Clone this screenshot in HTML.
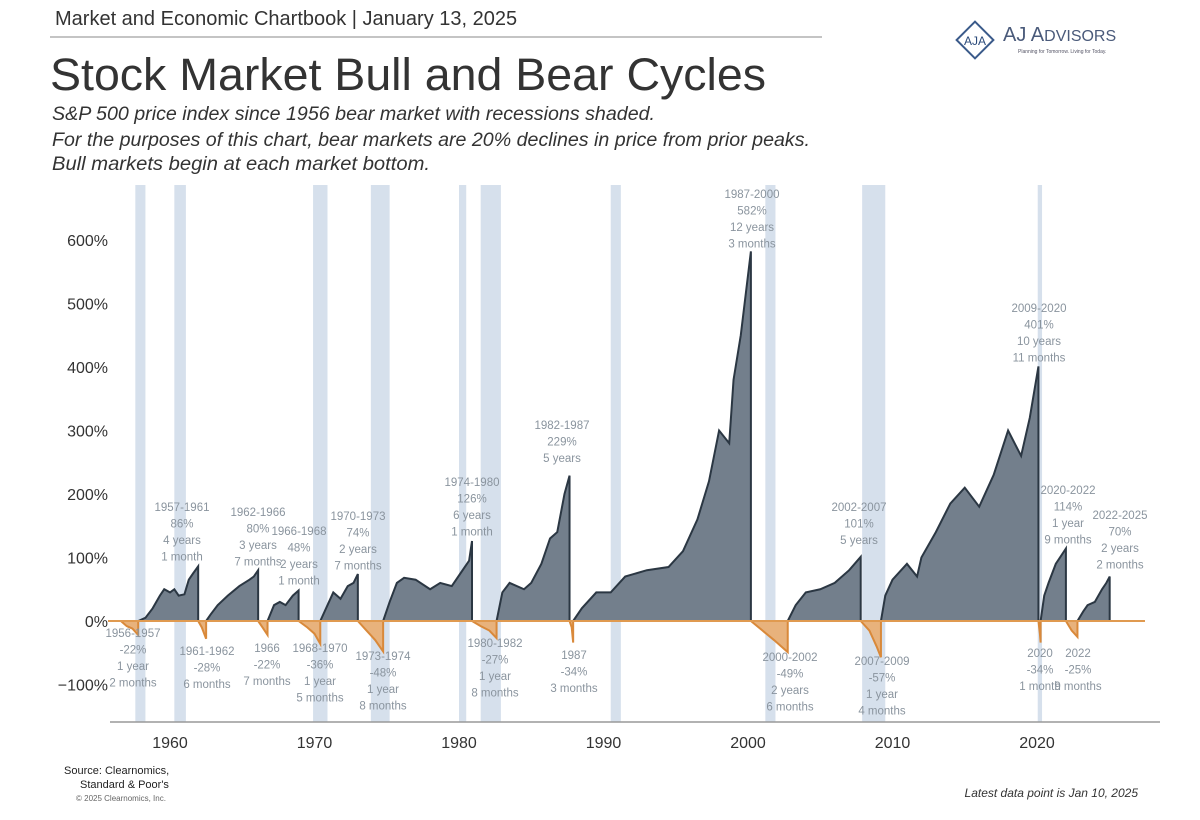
<!DOCTYPE html>
<html><head><meta charset="utf-8"><style>
body{margin:0;background:#fff;width:1200px;height:815px;overflow:hidden;font-family:"Liberation Sans",sans-serif}
svg text{font-family:"Liberation Sans",sans-serif}
</style></head><body>
<svg id="chart" width="1200" height="815">
<text x="55" y="25" font-size="20" fill="#333">Market and Economic Chartbook | January 13, 2025</text>
<line x1="50" y1="37" x2="822" y2="37" stroke="#888" stroke-width="1"/>
<g>
<rect x="962" y="27" width="26" height="26" fill="none" stroke="#3a5a8a" stroke-width="2" transform="rotate(45 975 40)"/>
<text x="975" y="45" font-size="12" text-anchor="middle" fill="#2a4a7a" font-family="Liberation Serif">AJA</text>
<text x="1003" y="41" font-size="20" fill="#4a5a7a" font-family="Liberation Serif">AJ A<tspan font-size="16">DVISORS</tspan></text>
<text x="1018" y="53" font-size="5" fill="#556">Planning for Tomorrow. Living for Today.</text>
</g>
<text x="50" y="90" font-size="45" fill="#333" textLength="716" lengthAdjust="spacingAndGlyphs">Stock Market Bull and Bear Cycles</text>
<g font-size="19" font-style="italic" fill="#333">
<text x="52" y="120" textLength="603" lengthAdjust="spacingAndGlyphs">S&amp;P 500 price index since 1956 bear market with recessions shaded.</text>
<text x="52" y="146" textLength="758" lengthAdjust="spacingAndGlyphs">For the purposes of this chart, bear markets are 20% declines in price from prior peaks.</text>
<text x="52" y="170" textLength="378" lengthAdjust="spacingAndGlyphs">Bull markets begin at each market bottom.</text>
</g>
<g id="rec"></g><g id="marks"></g><g id="axes"></g><g id="labels"></g>
<g font-size="11" fill="#222">
<text x="64" y="774">Source: Clearnomics,</text>
<text x="80" y="788">Standard &amp; Poor's</text>
<text x="76" y="801" font-size="8" fill="#666">© 2025 Clearnomics, Inc.</text>
</g>
<text x="1138" y="797" font-size="12" font-style="italic" fill="#333" text-anchor="end">Latest data point is Jan 10, 2025</text>
</svg>
<script>
const recessions=[[1957.6,1958.3],[1960.3,1961.1],[1969.9,1970.9],[1973.9,1975.2],[1980.0,1980.5],[1981.5,1982.9],[1990.5,1991.2],[2001.2,2001.9],[2007.9,2009.5],[2020.05,2020.35]];
const bullYears=[
[1957.8,1958.3,1958.8,1959.3,1959.6,1960,1960.3,1960.6,1961,1961.3,1961.6,1961.95],
[1962.5,1962.8,1963.3,1964,1964.8,1965.5,1965.8,1966.1],
[1966.75,1967.2,1967.6,1968,1968.5,1968.9],
[1970.4,1970.8,1971.3,1971.8,1972.3,1972.7,1973.0],
[1974.75,1975.2,1975.7,1976.2,1977,1978,1978.7,1979.5,1980.1,1980.7,1980.9],
[1982.6,1983,1983.5,1984.5,1985,1985.7,1986.3,1986.8,1987.3,1987.65],
[1987.9,1988.5,1989.5,1990.5,1991.5,1993,1994.5,1995.5,1996.5,1997.3,1998,1998.7,1999,1999.5,2000.2],
[2002.75,2003.3,2004,2005,2006,2007,2007.8],
[2009.2,2009.5,2010,2011,2011.7,2012,2013,2014,2015,2016,2017,2018,2018.9,2019.5,2020.1],
[2020.25,2020.5,2020.8,2021.3,2022.0],
[2022.8,2023.2,2023.5,2024,2024.5,2024.8,2025.03]];
const bullValues=[
[0,5,20,40,50,45,50,40,42,65,75,86],
[0,10,25,40,55,65,70,80],
[0,25,30,25,40,48],
[0,20,45,35,55,60,74],
[0,30,60,68,65,50,60,55,75,95,126],
[0,45,60,50,60,90,130,140,200,229],
[0,20,45,45,70,80,85,110,160,220,300,280,380,450,582],
[0,25,45,50,60,80,101],
[0,40,65,90,70,100,140,185,210,180,230,300,260,320,401],
[0,40,60,90,114],
[0,15,25,30,50,60,70]];
const bearYears=[[1956.6,1957.0,1957.4,1957.8],[1961.95,1962.2,1962.5],[1966.1,1966.4,1966.75],[1968.9,1969.5,1970.0,1970.4],[1973.0,1973.6,1974.2,1974.75],[1980.9,1981.5,1982.1,1982.6],[1987.65,1987.8,1987.9],[2000.2,2001,2001.8,2002.75],[2007.8,2008.4,2008.9,2009.2],[2020.1,2020.2,2020.25],[2022.0,2022.4,2022.8]];
const bearValues=[[0,-8,-12,-22],[0,-10,-28],[0,-10,-22],[0,-10,-20,-36],[0,-15,-30,-48],[0,-8,-15,-27],[0,-10,-34],[0,-15,-30,-49],[0,-15,-40,-57],[0,-20,-34],[0,-15,-25]];
const yTicks=[600,500,400,300,200,100,0,-100];
const xTicks=[1960,1970,1980,1990,2000,2010,2020];
const annotations=[
[133,637,["1956-1957","-22%","1 year","2 months"]],
[182,511,["1957-1961","86%","4 years","1 month"]],
[258,516,["1962-1966","80%","3 years","7 months"]],
[299,535,["1966-1968","48%","2 years","1 month"]],
[207,655,["1961-1962","-28%","6 months"]],
[267,652,["1966","-22%","7 months"]],
[320,652,["1968-1970","-36%","1 year","5 months"]],
[383,660,["1973-1974","-48%","1 year","8 months"]],
[358,520,["1970-1973","74%","2 years","7 months"]],
[472,486,["1974-1980","126%","6 years","1 month"]],
[495,647,["1980-1982","-27%","1 year","8 months"]],
[562,429,["1982-1987","229%","5 years"]],
[574,659,["1987","-34%","3 months"]],
[752,198,["1987-2000","582%","12 years","3 months"]],
[790,661,["2000-2002","-49%","2 years","6 months"]],
[859,511,["2002-2007","101%","5 years"]],
[882,665,["2007-2009","-57%","1 year","4 months"]],
[1039,312,["2009-2020","401%","10 years","11 months"]],
[1068,494,["2020-2022","114%","1 year","9 months"]],
[1040,657,["2020","-34%","1 month"]],
[1078,657,["2022","-25%","9 months"]],
[1120,519,["2022-2025","70%","2 years","2 months"]]];
const X=y=>170+(y-1960)*14.45, Y=v=>621-v*0.635;
const NS="http://www.w3.org/2000/svg";
function mk(tag,attrs,parent){const e=document.createElementNS(NS,tag);for(const k in attrs)e.setAttribute(k,attrs[k]);parent.appendChild(e);return e;}
const rec=document.getElementById('rec'),marks=document.getElementById('marks'),axes=document.getElementById('axes'),labels=document.getElementById('labels');
recessions.forEach(r=>{const e=mk('rect',{x:X(r[0]),y:185,width:X(r[1])-X(r[0]),height:537,fill:'#d6e0ec'},rec);

});
function area(ys,vs,fill,stroke,name){
 let d='M'+X(ys[0])+' '+Y(0);ys.forEach((y,i)=>d+=' L'+X(y)+' '+Y(vs[i]));d+=' L'+X(ys[ys.length-1])+' '+Y(0)+'Z';
 const a=mk('path',{d:d,fill:fill,stroke:'none'},marks);
 
 
 let l='';ys.forEach((y,i)=>l+=(i?' L':'M')+X(y)+' '+Y(vs[i]));l+=' L'+X(ys[ys.length-1])+' '+Y(0);
 const p=mk('path',{d:l,fill:'none',stroke:stroke,'stroke-width':2},marks);
 
 }
bullYears.forEach((ys,i)=>area(ys,bullValues[i],'#737f8c','#2b3743','bull-market'));
bearYears.forEach((ys,i)=>area(ys,bearValues[i],'#e8b27c','#d9893a','bear-market'));
const z=mk('line',{x1:108,x2:1145,y1:Y(0),y2:Y(0),stroke:'#e09a50','stroke-width':2},axes);


const ax=mk('line',{x1:110,x2:1160,y1:722,y2:722,stroke:'#999','stroke-width':1.5},axes);


yTicks.forEach(v=>{const t=mk('text',{x:108,y:Y(v)+6,'text-anchor':'end','font-size':16,fill:'#333'},axes);t.textContent=(v<0?'\u2212':'')+Math.abs(v)+'%';

});
xTicks.forEach(v=>{const t=mk('text',{x:X(v),y:748,'text-anchor':'middle','font-size':16,fill:'#333'},axes);t.textContent=v;

});
annotations.forEach(a=>{const g=mk('g',{},labels);


a[2].forEach((s,i)=>{const t=mk('text',{x:a[0],y:a[1]+i*16.5,'text-anchor':'middle','font-size':11.5,fill:'#8a949e'},g);t.textContent=s;});});
</script>
</body></html>
